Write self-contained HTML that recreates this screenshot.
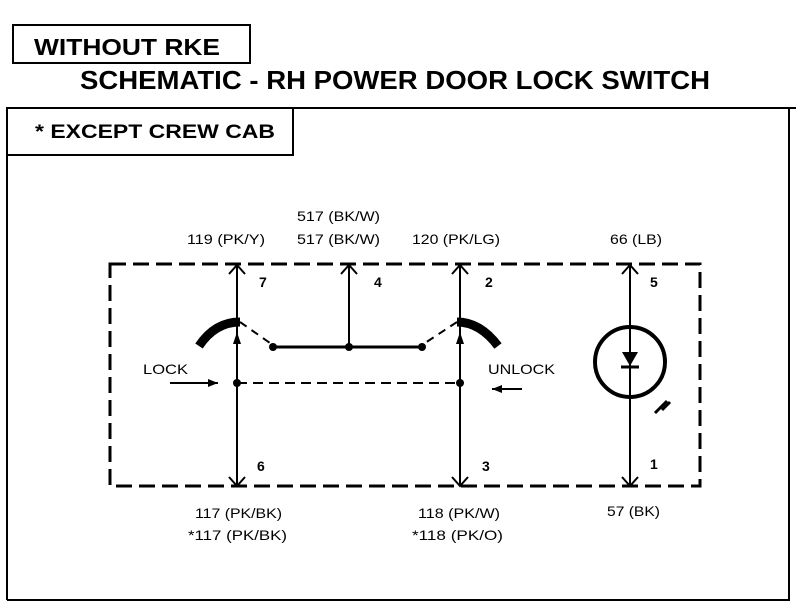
<!DOCTYPE html>
<html><head><style>
body{margin:0;background:#fff;width:796px;height:608px;overflow:hidden}
svg text{font-family:"Liberation Sans",Arial,sans-serif}
</style></head><body>
<svg width="796" height="608" viewBox="0 0 796 608">
<rect x="13" y="25" width="237" height="38" fill="none" stroke="#000" stroke-width="2"/>
<text x="34" y="55" font-size="23" font-weight="bold" textLength="186" lengthAdjust="spacingAndGlyphs">WITHOUT RKE</text>
<text x="80" y="89" font-size="26" font-weight="bold" textLength="630" lengthAdjust="spacingAndGlyphs">SCHEMATIC - RH POWER DOOR LOCK SWITCH</text>
<path d="M7,600 V108 H796 M7,600 H789 V108" fill="none" stroke="#000" stroke-width="2"/>
<rect x="7" y="108" width="286" height="47" fill="none" stroke="#000" stroke-width="2"/>
<text x="35" y="138" font-size="19" font-weight="bold" textLength="240" lengthAdjust="spacingAndGlyphs">*  EXCEPT CREW CAB</text>
<rect x="110" y="264" width="590" height="222" fill="none" stroke="#000" stroke-width="3" stroke-dasharray="16,7"/>
<g stroke="#000" stroke-width="2" fill="none">
<line x1="237" y1="265" x2="237" y2="486"/>
<line x1="349" y1="265" x2="349" y2="347"/>
<line x1="460" y1="265" x2="460" y2="486"/>
<line x1="630" y1="265" x2="630" y2="486"/>
<path d="M229,274 L237,265 L245,274 M341,274 L349,265 L357,274 M452,274 L460,265 L468,274 M622,274 L630,265 L638,274"/>
<path d="M229,477 L237,486 L245,477 M452,477 L460,486 L468,477 M622,477 L630,486 L638,477"/>
<line x1="273" y1="347" x2="422" y2="347" stroke-width="3"/>
<line x1="237" y1="383" x2="460" y2="383" stroke-dasharray="10,6"/>
<path d="M240,322 L270,343" stroke-dasharray="8,6"/>
<path d="M457,322 L425,343" stroke-dasharray="8,6"/>
<path d="M199,346 Q215,322 240,322" stroke-width="9"/>
<path d="M457,322 Q480,322 498,346" stroke-width="9"/>
<line x1="170" y1="383" x2="218" y2="383"/>
<line x1="492" y1="389" x2="522" y2="389"/>
<circle cx="630" cy="362" r="35" stroke-width="4"/>
<line x1="655" y1="413" x2="667" y2="401" stroke-width="3"/>
<line x1="662" y1="410" x2="670" y2="402" stroke-width="3"/>
</g>
<path d="M218,383 L208,379 L208,387Z M492,389 L502,385 L502,393Z M237,332 L233,344 L241,344Z M460,332 L456,344 L464,344Z M622,352 L638,352 L630,366Z" fill="#000"/>
<line x1="621" y1="367" x2="639" y2="367" stroke="#000" stroke-width="3"/>
<g fill="#000"><circle cx="273" cy="347" r="4"/><circle cx="349" cy="347" r="4"/><circle cx="422" cy="347" r="4"/><circle cx="237" cy="383" r="4"/><circle cx="460" cy="383" r="4"/></g>
<g font-size="14" lengthAdjust="spacingAndGlyphs">
<text x="297" y="221" textLength="83" lengthAdjust="spacingAndGlyphs">517 (BK/W)</text>
<text x="297" y="244" textLength="83" lengthAdjust="spacingAndGlyphs">517 (BK/W)</text>
<text x="187" y="244" textLength="78" lengthAdjust="spacingAndGlyphs">119 (PK/Y)</text>
<text x="412" y="244" textLength="88" lengthAdjust="spacingAndGlyphs">120 (PK/LG)</text>
<text x="610" y="244" textLength="52" lengthAdjust="spacingAndGlyphs">66 (LB)</text>
<text x="259" y="287" font-weight="bold">7</text>
<text x="374" y="287" font-weight="bold">4</text>
<text x="485" y="287" font-weight="bold">2</text>
<text x="650" y="287" font-weight="bold">5</text>
<text x="257" y="471" font-weight="bold">6</text>
<text x="482" y="471" font-weight="bold">3</text>
<text x="650" y="469" font-weight="bold">1</text>
<text x="143" y="374" textLength="45" lengthAdjust="spacingAndGlyphs">LOCK</text>
<text x="488" y="374" textLength="67" lengthAdjust="spacingAndGlyphs">UNLOCK</text>
<text x="195" y="518" textLength="87" lengthAdjust="spacingAndGlyphs">117 (PK/BK)</text>
<text x="188" y="540" textLength="99" lengthAdjust="spacingAndGlyphs">*117 (PK/BK)</text>
<text x="418" y="518" textLength="82" lengthAdjust="spacingAndGlyphs">118 (PK/W)</text>
<text x="412" y="540" textLength="91" lengthAdjust="spacingAndGlyphs">*118 (PK/O)</text>
<text x="607" y="516" textLength="53" lengthAdjust="spacingAndGlyphs">57 (BK)</text>
</g>
</svg>
</body></html>
